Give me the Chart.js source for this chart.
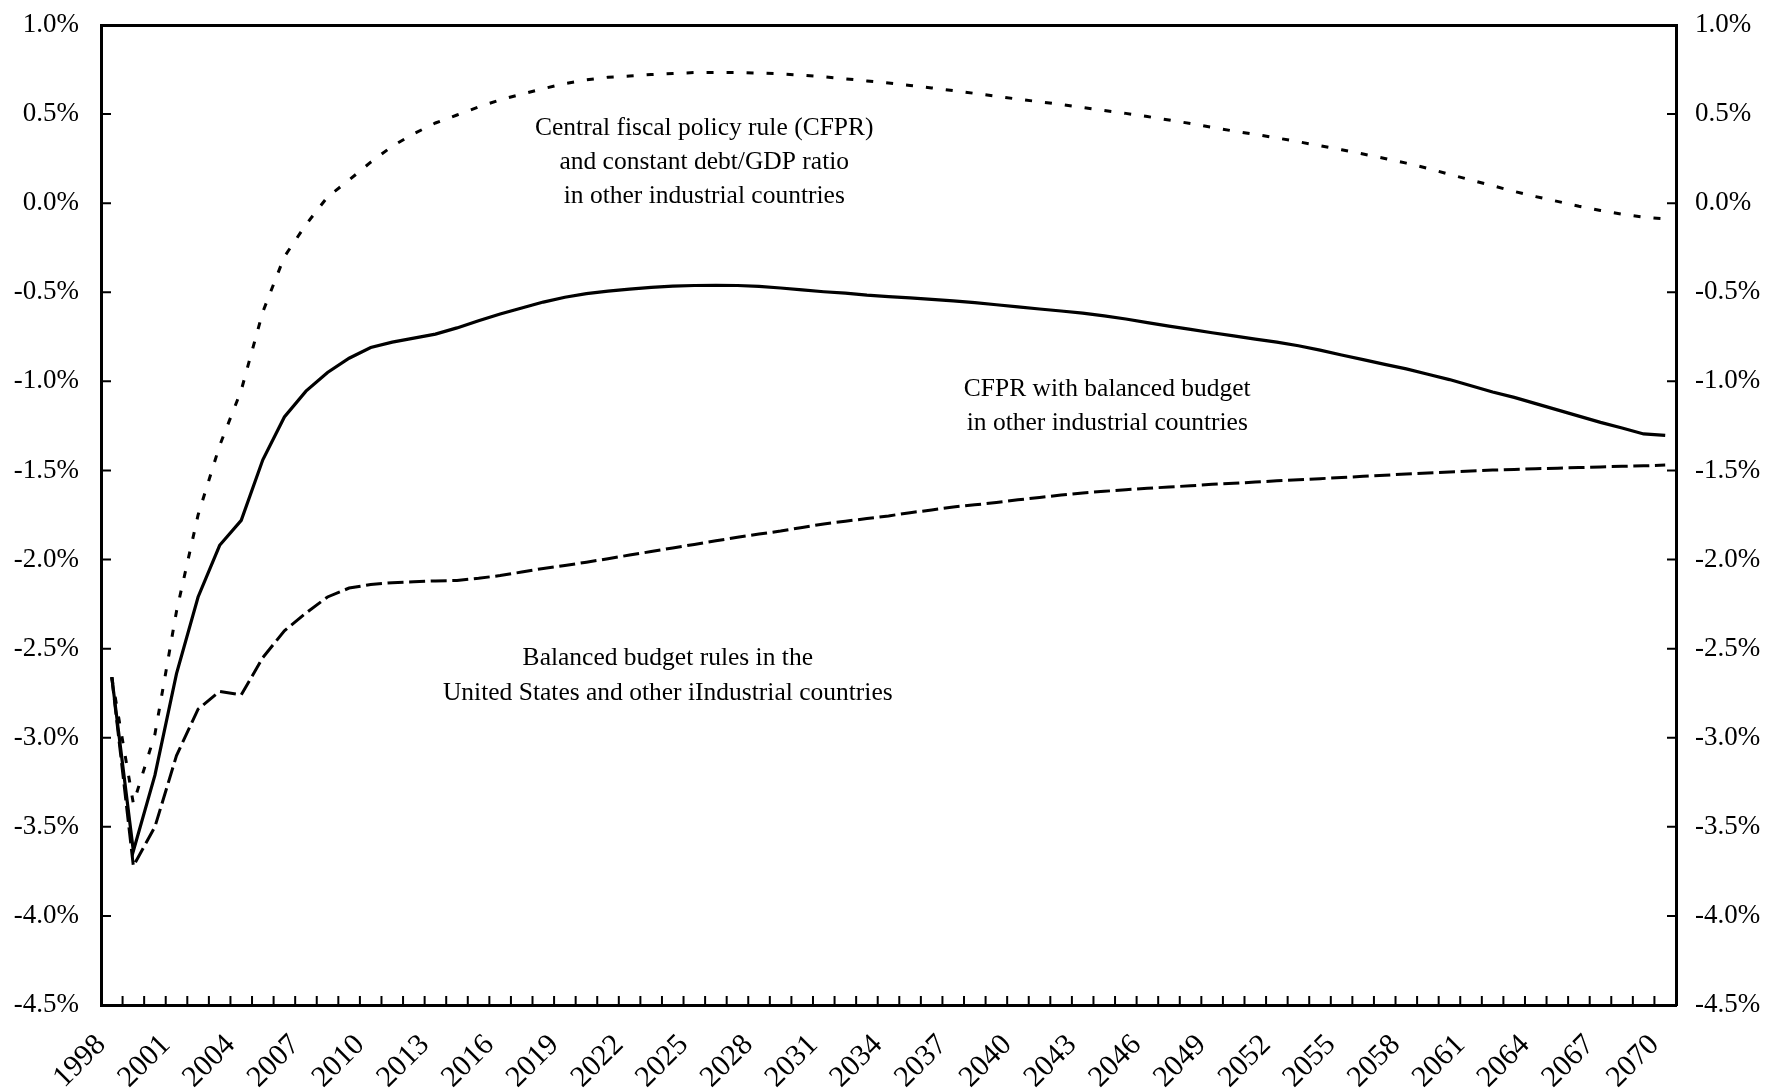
<!DOCTYPE html>
<html>
<head>
<meta charset="utf-8">
<script src="https://cdn.jsdelivr.net/npm/chart.js@4.4.1/dist/chart.umd.min.js"></script>
<style>
  html, body { margin: 0; padding: 0; background: #fff; }
  #contenedor { width: 1768px; height: 1091px; }
</style>
</head>
<body>
<div id="contenedor"><canvas id="grafico"></canvas></div>
<script>
// Datos (% del PIB), 1998-2070
const anios = Array.from({ length: 73 }, (_, i) => String(1998 + i));

const reglaDeudaConstante = [
  -2.66, -3.37, -2.98, -2.29, -1.75, -1.36, -1.05, -0.61, -0.30, -0.12,
  0.035, 0.13, 0.23, 0.32, 0.39, 0.45, 0.495, 0.54, 0.58, 0.612,
  0.643, 0.671, 0.692, 0.707, 0.714, 0.722, 0.728, 0.733, 0.734, 0.734,
  0.73, 0.726, 0.718, 0.709, 0.698, 0.686, 0.674, 0.661, 0.647, 0.632,
  0.616, 0.60, 0.584, 0.569, 0.554, 0.537, 0.52, 0.504, 0.486, 0.467,
  0.447, 0.425, 0.405, 0.386, 0.366, 0.345, 0.322, 0.30, 0.276, 0.251,
  0.225, 0.195, 0.162, 0.13, 0.098, 0.066, 0.037, 0.01, -0.017, -0.041,
  -0.062, -0.079, -0.088
];

const reglaPresupuesto = [
  -2.66, -3.635, -3.21, -2.64, -2.21, -1.92, -1.78, -1.44, -1.20, -1.055,
  -0.95, -0.87, -0.81, -0.78, -0.757, -0.735, -0.70, -0.66, -0.622, -0.588,
  -0.555, -0.528, -0.508, -0.494, -0.482, -0.472, -0.466, -0.462, -0.461, -0.462,
  -0.467, -0.476, -0.487, -0.497, -0.505, -0.516, -0.524, -0.531, -0.54, -0.548,
  -0.558, -0.57, -0.582, -0.594, -0.605, -0.617, -0.632, -0.65, -0.67, -0.69,
  -0.708, -0.727, -0.745, -0.763, -0.78, -0.80, -0.825, -0.852, -0.878, -0.905,
  -0.93, -0.96, -0.99, -1.025, -1.06, -1.09, -1.125, -1.16, -1.195, -1.23,
  -1.262, -1.295, -1.303
];

const presupuestoEquilibrado = [
  -2.66, -3.72, -3.50, -3.10, -2.84, -2.74, -2.76, -2.55, -2.40, -2.30,
  -2.21, -2.16, -2.14, -2.13, -2.125, -2.12, -2.117, -2.105, -2.09, -2.07,
  -2.05, -2.033, -2.015, -1.995, -1.975, -1.955, -1.935, -1.915, -1.895, -1.875,
  -1.857, -1.84, -1.82, -1.80, -1.785, -1.77, -1.755, -1.737, -1.722, -1.705,
  -1.693, -1.68, -1.665, -1.652, -1.638, -1.626, -1.617, -1.608, -1.60, -1.593,
  -1.586, -1.578, -1.572, -1.565, -1.558, -1.552, -1.546, -1.54, -1.533, -1.527,
  -1.52, -1.514, -1.508, -1.503, -1.498, -1.494, -1.49, -1.487, -1.484, -1.48,
  -1.477, -1.474, -1.47
];

// Eje Y
const yMin = -4.5;
const yMax = 1.0;
const yPaso = 0.5;

// Textos dentro del grafico
const notas = [
  { texto: ['Central fiscal policy rule (CFPR)', 'and constant debt/GDP ratio', 'in other industrial countries'], x: 27.46, y: 0.42, salto: 34 },
  { texto: ['CFPR with balanced budget', 'in other industrial countries'], x: 46.14, y: -1.046, salto: 34 },
  { texto: ['Balanced budget rules in the', 'United States and other iIndustrial countries'], x: 25.77, y: -2.556, salto: 35 }
];

const fuente = '"Liberation Serif", "Times New Roman", serif';
Chart.defaults.font.family = fuente;
Chart.defaults.color = '#000';

const pluginNotas = {
  id: 'notas',
  afterDatasetsDraw(chart) {
    const { ctx, scales: { x, y } } = chart;
    ctx.save();
    ctx.font = '25.5px ' + fuente;
    ctx.fillStyle = '#000';
    ctx.textAlign = 'center';
    ctx.textBaseline = 'middle';
    notas.forEach(n => {
      const px = x.getPixelForValue(n.x);
      const py = y.getPixelForValue(n.y);
      n.texto.forEach((t, i) => ctx.fillText(t, px, py + i * n.salto));
    });
    ctx.restore();
  }
};

// Marcas de los ejes hacia dentro del grafico
const pluginMarcas = {
  id: 'marcas',
  beforeDatasetsDraw(chart) {
    const { ctx, chartArea: a, scales: { x, y } } = chart;
    ctx.save();
    ctx.strokeStyle = '#000';
    ctx.lineWidth = 2;
    ctx.beginPath();
    y.ticks.forEach((t, i) => {
      const py = y.getPixelForTick(i);
      ctx.moveTo(a.left, py);
      ctx.lineTo(a.left + 10, py);
      ctx.moveTo(a.right, py);
      ctx.lineTo(a.right - 9, py);
    });
    for (let i = 0; i <= anios.length; i++) {
      const px = x.getPixelForValue(i - 0.5);
      ctx.moveTo(px, a.bottom);
      ctx.lineTo(px, a.bottom - 9);
    }
    ctx.stroke();
    ctx.restore();
  }
};

const etiquetaPct = v => (Math.abs(v) < 1e-9 ? 0 : v).toFixed(1) + '%';

const ejeY = (posicion, ancho, relleno) => ({
  type: 'linear',
  position: posicion,
  min: yMin,
  max: yMax,
  afterFit: s => { s.width = ancho; s.paddingTop = 0; s.paddingBottom = 0; },
  ticks: { stepSize: yPaso, callback: etiquetaPct, font: { size: 27 }, padding: relleno },
  grid: { display: false, drawTicks: false },
  border: { display: true, color: '#000', width: 3 }
});

const ctx = document.getElementById('grafico').getContext('2d');

new Chart(ctx, {
  type: 'line',
  data: {
    labels: anios,
    datasets: [
      {
        label: 'CFPR and constant debt/GDP ratio',
        data: reglaDeudaConstante,
        borderColor: '#000',
        borderWidth: 3,
        borderDash: [7, 13],
        pointRadius: 0,
        tension: 0
      },
      {
        label: 'CFPR with balanced budget',
        data: reglaPresupuesto,
        borderColor: '#000',
        borderWidth: 3.2,
        pointRadius: 0,
        tension: 0
      },
      {
        label: 'Balanced budget rules',
        data: presupuestoEquilibrado,
        borderColor: '#000',
        borderWidth: 3,
        borderDash: [16, 5.6],
        pointRadius: 0,
        tension: 0
      }
    ]
  },
  options: {
    responsive: true,
    maintainAspectRatio: false,
    animation: false,
    layout: { padding: 0 },
    plugins: {
      legend: { display: false },
      tooltip: { enabled: false }
    },
    scales: {
      x: {
        type: 'category',
        position: 'bottom',
        offset: true,
        afterFit: s => { s.height = 86; s.paddingLeft = 0; s.paddingRight = 0; },
        ticks: {
          autoSkip: false,
          minRotation: 45,
          maxRotation: 45,
          padding: 12,
          font: { size: 30 },
          // etiqueta cada 3 anios, con espacio al final para bajarla un poco
          callback: function (v, i) { return i % 3 === 0 ? this.getLabelForValue(v) + '  ' : ''; }
        },
        grid: { display: false, drawTicks: false },
        border: { display: true, color: '#000', width: 3 }
      },
      xTop: {
        type: 'category',
        position: 'top',
        offset: true,
        afterFit: s => { s.height = 25; s.paddingLeft = 0; s.paddingRight = 0; },
        ticks: { display: false },
        grid: { display: false, drawTicks: false },
        border: { display: true, color: '#000', width: 3 }
      },
      y: ejeY('left', 101, 22),
      y2: ejeY('right', 92, 19)
    }
  },
  plugins: [pluginMarcas, pluginNotas]
});
</script>
</body>
</html>
